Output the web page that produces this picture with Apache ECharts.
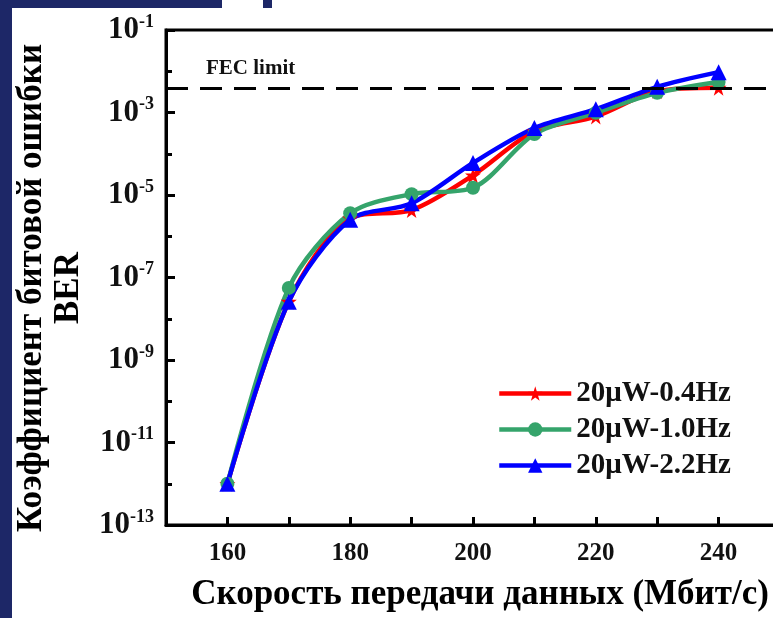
<!DOCTYPE html>
<html>
<head>
<meta charset="utf-8">
<script src="https://cdn.jsdelivr.net/npm/echarts@6/dist/echarts.min.js"></script>
<style>
  html, body { margin: 0; padding: 0; background: #fff; }
  #container { width: 773px; height: 618px; }
</style>
</head>
<body>
<div id="container"></div>
<script>
// data
let rates = [160, 170, 180, 190, 200, 210, 220, 230, 240];
let ber04 = [1e-12, 2.6e-8, 2.7e-6, 4.3e-6, 3.0e-5, 3.5e-4, 8.0e-4, 3.3e-3, 4.0e-3];
let ber10 = [1e-12, 5.6e-8, 3.6e-6, 1.05e-5, 1.5e-5, 3.0e-4, 9.8e-4, 3.0e-3, 5.5e-3];
let ber22 = [1e-12, 2.6e-8, 2.5e-6, 6.3e-6, 6.0e-5, 4.2e-4, 1.2e-3, 4.2e-3, 9.5e-3];
let fecLimit = 3.8e-3;
let xTickLabels = [160, 180, 200, 220, 240];
let yTickExponents = [-13, -11, -9, -7, -5, -3, -1];
let seriesNames = ['20μW-0.4Hz', '20μW-1.0Hz', '20μW-2.2Hz'];

let dom = document.getElementById("container");
let myChart = echarts.init(dom);

const font = '"Liberation Serif", "Times New Roman", serif';
const star = 'path://M50,0 L61,35 L98,35 L68,57 L79,91 L50,70 L21,91 L32,57 L2,35 L39,35 Z';

function toPoints(vals) {
    return rates.map((r, i) => [r, Math.log10(vals[i])]);
}

function makeSeries(name, vals, color, symbol, size) {
    return {
        name: name,
        type: 'line',
        data: toPoints(vals),
        smooth: 0.3,
        symbol: symbol,
        symbolSize: size,
        lineStyle: { color: color, width: 4.5 },
        itemStyle: { color: color },
        emphasis: { disabled: true }
    };
}

let series = [
    makeSeries(seriesNames[0], ber04, '#ff0000', star, 16),
    makeSeries(seriesNames[1], ber10, '#35a46b', 'circle', 14),
    makeSeries(seriesNames[2], ber22, '#0000ff', 'triangle', 16)
];
series[0].markLine = {
    silent: true,
    symbol: ['none', 'none'],
    label: { show: false },
    lineStyle: { color: '#000', width: 3, type: [22, 12] },
    data: [{ yAxis: Math.log10(fecLimit) }]
};

let option = {
    backgroundColor: '#fff',
    animation: false,
    grid: {
        left: 166,
        top: 30,
        right: -7,
        bottom: 93,
        outerBoundsMode: 'none',
        containLabel: false,
        show: true,
        borderColor: '#000',
        borderWidth: 3
    },
    legend: {
        orient: 'vertical',
        left: 492,
        top: 374,
        itemWidth: 72,
        itemHeight: 18,
        itemGap: 7,
        data: seriesNames,
        lineStyle: { width: 4.5 },
        textStyle: { fontFamily: font, fontWeight: 'bold', fontSize: 29, lineHeight: 29, color: '#111' }
    },
    xAxis: {
        type: 'value',
        min: 150,
        max: 250,
        interval: 10,
        name: 'Скорость передачи данных (Мбит/с)',
        nameLocation: 'middle',
        nameGap: 52,
        nameTextStyle: { fontFamily: font, fontWeight: 'bold', fontSize: 35, color: '#000', padding: [0, 0, 0, 14] },
        axisLine: { lineStyle: { color: '#000', width: 3 } },
        axisTick: { inside: true, length: 8, lineStyle: { color: '#000', width: 3 } },
        splitLine: { show: false },
        axisLabel: {
            margin: 16,
            fontFamily: font, fontWeight: 'bold', fontSize: 25, color: '#111',
            formatter: v => xTickLabels.indexOf(v) >= 0 ? String(v) : ''
        }
    },
    yAxis: {
        type: 'value',
        min: -13,
        max: -1,
        interval: 2,
        axisLine: { lineStyle: { color: '#000', width: 3 } },
        axisTick: { inside: true, length: 9, lineStyle: { color: '#000', width: 3 } },
        minorTick: { show: true, splitNumber: 2, length: 6, lineStyle: { color: '#000', width: 3 } },
        splitLine: { show: false },
        minorSplitLine: { show: false },
        axisLabel: {
            margin: 12,
            formatter: v => yTickExponents.indexOf(v) >= 0 ? '{b|10}{s|' + v + '}' : '',
            rich: {
                b: { fontFamily: font, fontWeight: 'bold', fontSize: 31, color: '#111' },
                s: { fontFamily: font, fontWeight: 'bold', fontSize: 18, color: '#111', verticalAlign: 'top', padding: [0, 0, 16, 0] }
            }
        }
    },
    graphic: [
        { type: 'rect', left: 0, top: 0, shape: { width: 12, height: 618 }, style: { fill: '#1d2767' } },
        { type: 'rect', left: 0, top: 0, shape: { width: 222, height: 8 }, style: { fill: '#1d2767' } },
        { type: 'rect', left: 263, top: 0, shape: { width: 9, height: 8 }, style: { fill: '#1d2767' } },
        {
            type: 'text', left: 206, top: 58,
            style: { text: 'FEC limit', fontFamily: font, fontWeight: 'bold', fontSize: 21, fill: '#111' }
        },
        {
            type: 'text', x: 50, y: 288, rotation: Math.PI / 2,
            style: {
                text: 'Коэффициент битовой ошибки\nBER',
                fontFamily: font, fontWeight: 'bold', fontSize: 35, lineHeight: 37,
                fill: '#000', align: 'center', verticalAlign: 'middle'
            }
        }
    ],
    series: series
};

if (option && typeof option === "object") {
    myChart.setOption(option, true);
}
</script>
</body>
</html>
